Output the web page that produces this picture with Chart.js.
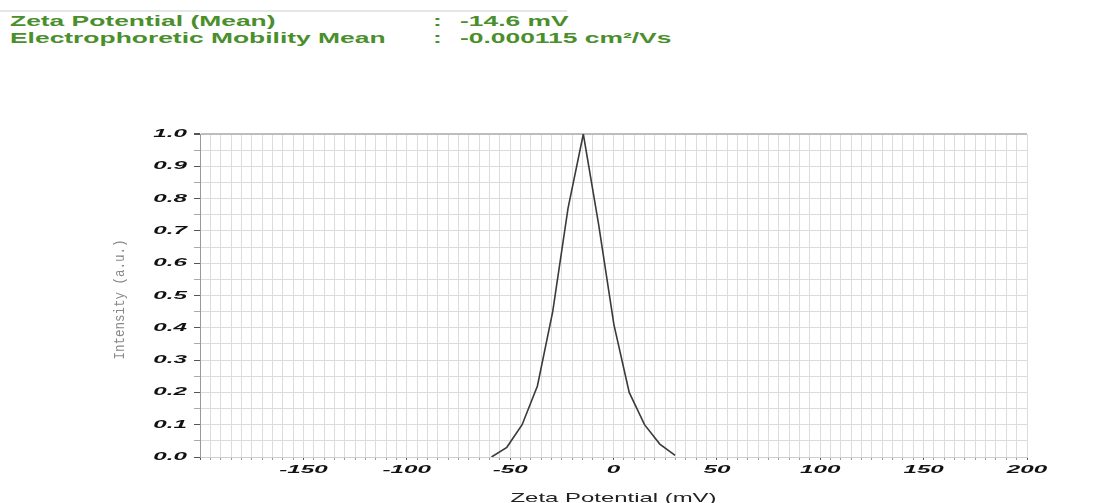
<!DOCTYPE html>
<html>
<head>
<meta charset="utf-8">
<script src="https://cdn.jsdelivr.net/npm/chart.js@4"></script>
<style>
  body { margin: 0; background: #fff; }
  #wrap { position: relative; width: 1113px; height: 503px; overflow: hidden; }
  #topline { position: absolute; left: 0; top: 10px; width: 567px; height: 2px; background: #e6e6e6; }
  .hdr { position: absolute; font-family: "Liberation Sans", Arial, sans-serif; font-weight: bold;
         font-size: 15px; line-height: 17px; color: #4a8f2c; white-space: nowrap;
         transform-origin: left center; transform: scaleX(1.76); }
  canvas { position: absolute; left: 0; top: 0; }
</style>
</head>
<body>
<div id="wrap">
  <div id="topline"></div>
  <div class="hdr" style="left:10px; top:12px;">Zeta Potential (Mean)</div>
  <div class="hdr" style="left:10px; top:29px;">Electrophoretic Mobility Mean</div>
  <div class="hdr" style="left:433px; top:12px;">:</div>
  <div class="hdr" style="left:433px; top:29px;">:</div>
  <div class="hdr" style="left:460px; top:12px;">-14.6 mV</div>
  <div class="hdr" style="left:460px; top:29px;">-0.000115 cm²/Vs</div>
  <canvas id="chart" width="1113" height="503"></canvas>
</div>
<script>
// zeta potential distribution
const zetaMv = [-59.0, -51.6, -44.2, -36.8, -29.4, -22.0, -14.6, -7.2, 0.2, 7.6, 15.0, 22.4, 29.8];
const intensity = [0.0, 0.03, 0.10, 0.22, 0.45, 0.77, 1.0, 0.72, 0.41, 0.20, 0.10, 0.04, 0.005];

const xMin = -200, xMax = 200, xStep = 5, xLabelEvery = 50;
const yMin = 0, yMax = 1, yStep = 0.05;
const xTitle = 'Zeta Potential (mV)';
const yTitle = 'Intensity (a.u.)';

const points = zetaMv.map((x, i) => ({x: x, y: intensity[i]}));

const isMajorY = (v) => Math.round(v * 100) % 10 === 0;
const isMajorX = (v) => v % xLabelEvery === 0;

// the original printout is stretched sideways, so labels are drawn squashed/stretched by hand
function stretchedText(ctx, text, x, y, sx, font, color, align) {
    ctx.save();
    ctx.translate(x, y);
    ctx.scale(sx, 1);
    ctx.font = font;
    ctx.fillStyle = color;
    ctx.textAlign = align;
    ctx.textBaseline = 'middle';
    ctx.fillText(text, 0, 0);
    ctx.restore();
}

const labelPlugin = {
    id: 'stretchedLabels',
    afterDraw(chart) {
        const ctx = chart.ctx;
        const xs = chart.scales.x, ys = chart.scales.y;
        const tickFont = 'italic bold 11px "Liberation Sans"';

        xs.ticks.forEach((t) => {
            if (isMajorX(t.value) && t.value !== xMin) {
                stretchedText(ctx, String(t.value), xs.getPixelForValue(t.value), xs.top + 13, 2.2, tickFont, '#111', 'center');
            }
        });
        ys.ticks.forEach((t) => {
            if (isMajorY(t.value)) {
                stretchedText(ctx, t.value.toFixed(1), ys.right - 13, ys.getPixelForValue(t.value), 2.2, tickFont, '#111', 'right');
            }
        });

        stretchedText(ctx, xTitle, (xs.left + xs.right) / 2, xs.top + 41, 1.84, '13px "Liberation Sans"', '#222', 'center');

        ctx.save();
        ctx.translate(ys.left - 3, (ys.top + ys.bottom) / 2 + 4);
        ctx.scale(1.2, 1);
        ctx.rotate(-Math.PI / 2);
        ctx.font = '12.5px "Liberation Mono"';
        ctx.fillStyle = '#888';
        ctx.textAlign = 'center';
        ctx.textBaseline = 'middle';
        ctx.fillText(yTitle, 0, 0);
        ctx.restore();
    }
};

const context = document.getElementById("chart").getContext("2d");

const newChart = new Chart(context, {
    type: 'scatter',
    data: {
        datasets: [
            {
                label: "Intensity",
                data: points,
                showLine: true,
                borderColor: "#3a3a3a",
                borderWidth: 1.6,
                pointRadius: 0,
                tension: 0
            }
        ]
    },
    options: {
        responsive: false,
        animation: false,
        layout: {
            padding: {left: 123, top: 134, right: 86, bottom: 0}
        },
        plugins: {
            legend: {display: false},
            tooltip: {enabled: false}
        },
        scales: {
            x: {
                type: 'linear',
                min: xMin,
                max: xMax,
                afterFit: (s) => { s.height = 46; },
                ticks: {
                    stepSize: xStep,
                    autoSkip: false,
                    maxRotation: 0,
                    callback: () => ''
                },
                grid: {
                    color: '#dcdcdc',
                    lineWidth: 1,
                    tickLength: (c) => (c.tick && isMajorX(c.tick.value)) ? 7 : 3,
                    tickColor: (c) => (c.tick && isMajorX(c.tick.value)) ? '#555' : '#999'
                },
                border: {display: true, color: '#cfcfcf'}
            },
            y: {
                min: yMin,
                max: yMax,
                afterFit: (s) => { s.width = 77; },
                ticks: {
                    stepSize: yStep,
                    autoSkip: false,
                    callback: () => ''
                },
                grid: {
                    color: (c) => (c.tick && c.tick.value >= yMax) ? '#bdbdbd' : '#dcdcdc',
                    lineWidth: (c) => (c.tick && c.tick.value >= yMax) ? 2 : 1,
                    tickLength: 6,
                    tickColor: (c) => (c.tick && isMajorY(c.tick.value)) ? '#555' : '#aaa'
                },
                border: {display: true, color: '#999'}
            }
        }
    },
    plugins: [labelPlugin]
});
</script>
</body>
</html>
